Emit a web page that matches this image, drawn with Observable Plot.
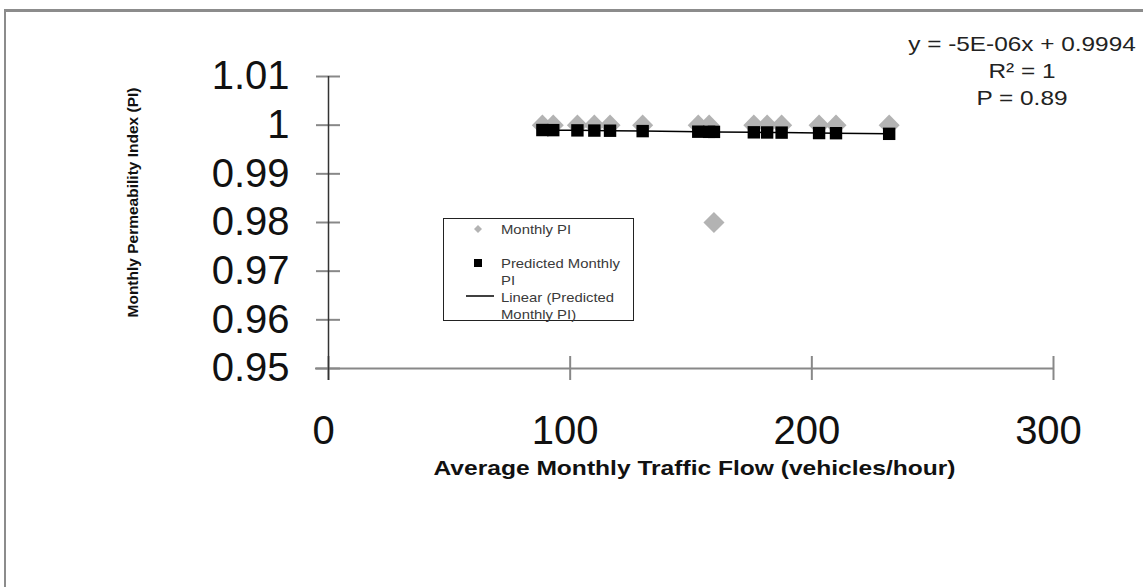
<!DOCTYPE html>
<html><head><meta charset="utf-8">
<script src="https://cdn.jsdelivr.net/npm/d3@7"></script>
<script src="https://cdn.jsdelivr.net/npm/@observablehq/plot@0.6"></script>
<style>
html,body{margin:0;padding:0;background:#fff;overflow:hidden;}
#wrap{position:relative;width:1143px;height:587px;overflow:hidden;font-family:"Liberation Sans",Arial,sans-serif;}
#border{position:absolute;left:4px;top:9px;width:1300px;height:800px;border-left:2px solid #8c8c8c;border-top:3px solid #8c8c8c;}
#chart{position:absolute;left:0;top:0;}
#eq{position:absolute;left:900px;top:30px;width:244px;text-align:center;font-size:21px;line-height:27px;color:#222;}
#eq div{transform:scaleX(1.16);transform-origin:center;}
#legend{position:absolute;left:443px;top:218px;width:189px;height:101px;border:1px solid #222;background:#fff;font-size:13.5px;color:#3a3a3a;}
#legend .t{position:absolute;left:57px;line-height:17px;white-space:nowrap;transform:scaleX(1.1);transform-origin:left;}
</style></head>
<body>
<div id="wrap">
<div id="border"></div>
<div id="chart"></div>
<div id="eq"></div>
<div id="legend"></div>
</div>
<script>
// Data
const trafficFlow = [88.5, 93, 103, 110, 116.5, 130, 153, 157.5, 159.5, 176, 181.5, 187.5, 203, 210, 232];
const monthlyPI   = [1, 1, 1, 1, 1, 1, 1, 1, 0.98, 1, 1, 1, 1, 1, 1];
const predictedPI = [0.99900, 0.99898, 0.99893, 0.99889, 0.99886, 0.99878, 0.99866, 0.99863, 0.99862, 0.99853, 0.99850, 0.99847, 0.99838, 0.99835, 0.99822];
const xTicks = [0, 100, 200, 300];
const yTicks = [0.95, 0.96, 0.97, 0.98, 0.99, 1.00, 1.01];
const xDomain = [0, 300];
const yDomain = [0.95, 1.01];
const xTitle = "Average Monthly Traffic Flow (vehicles/hour)";
const yTitle = "Monthly Permeability Index (PI)";
const equationLines = ["y = -5E-06x + 0.9994", "R² = 1", "P = 0.89"];
const legendLabels = ["Monthly PI", "Predicted Monthly<br>PI", "Linear (Predicted<br>Monthly PI)"];

const rows = trafficFlow.map((x, i) => ({x, pi: monthlyPI[i], pred: predictedPI[i]}));
const fmt = d => String(+d.toFixed(2));

const chart = Plot.plot({
  width: 1143, height: 587,
  marginLeft: 328, marginRight: 90, marginTop: 76, marginBottom: 219,
  x: {domain: xDomain},
  y: {domain: yDomain},
  style: {fontFamily: "'Liberation Sans', Arial, sans-serif", background: "transparent", color: "#111"},
  marks: [
    Plot.axisX({ticks: xTicks, tickSize: 12, text: null, stroke: "#888", strokeWidth: 2, label: null}),
    Plot.axisX({ticks: xTicks, tickSize: -12, text: null, stroke: "#888", strokeWidth: 2, label: null}),
    Plot.axisX({ticks: xTicks, tickSize: 0, tickPadding: 47, fontSize: 40, fill: "#111", tickFormat: fmt, label: null, dx: -5}),
    Plot.axisY({ticks: yTicks, tickSize: 12, tickPadding: 27, fontSize: 40, stroke: "#888", strokeWidth: 2, fill: "#111", tickFormat: fmt, label: null}),
    Plot.axisY({ticks: yTicks, tickSize: -12, text: null, stroke: "#888", strokeWidth: 2, label: null}),
    Plot.ruleY([yDomain[0]], {stroke: "#888", strokeWidth: 2, insetLeft: -13}),
    Plot.ruleX([xDomain[0]], {stroke: "#333", strokeWidth: 1.5, insetBottom: -12}),
    Plot.text([yTitle], {text: d => d, frameAnchor: "left", rotate: -90, textAnchor: "middle", lineAnchor: "middle", dx: -195, dy: -20, fontWeight: "bold", fontSize: 15.5, fill: "#111"}),
    Plot.text([xTitle], {text: d => d, frameAnchor: "bottom", textAnchor: "middle", lineAnchor: "middle", dx: 3.5, dy: 100, fontWeight: "bold", fontSize: 21, fill: "#111"}),
    Plot.dot(rows, {x: "x", y: "pi", symbol: "diamond2", r: 9.5, fill: "#b3b3b3"}),
    Plot.line(rows, {x: "x", y: "pred", stroke: "#000", strokeWidth: 1.5}),
    Plot.dot(rows, {x: "x", y: "pred", symbol: "square", r: 7, fill: "#000"})
  ]
});
d3.select(chart).selectAll("text")
  .filter(function() { return this.textContent === xTitle; })
  .attr("textLength", 522).attr("lengthAdjust", "spacingAndGlyphs");
document.getElementById("chart").appendChild(chart);

document.getElementById("eq").innerHTML = equationLines.map(s => `<div>${s}</div>`).join("");

const lg = document.getElementById("legend");
lg.innerHTML = `
  <svg width="189" height="101" style="position:absolute;left:0;top:0">
    <path d="M34,6 L38,10 L34,14 L30,10 Z" fill="#b3b3b3"/>
    <rect x="30" y="40" width="8" height="8" fill="#000"/>
    <line x1="22" y1="77" x2="50" y2="77" stroke="#000" stroke-width="1.5"/>
  </svg>
  <div class="t" style="top:1.5px">${legendLabels[0]}</div>
  <div class="t" style="top:35.5px">${legendLabels[1]}</div>
  <div class="t" style="top:69.5px">${legendLabels[2]}</div>`;
</script>
</body></html>
